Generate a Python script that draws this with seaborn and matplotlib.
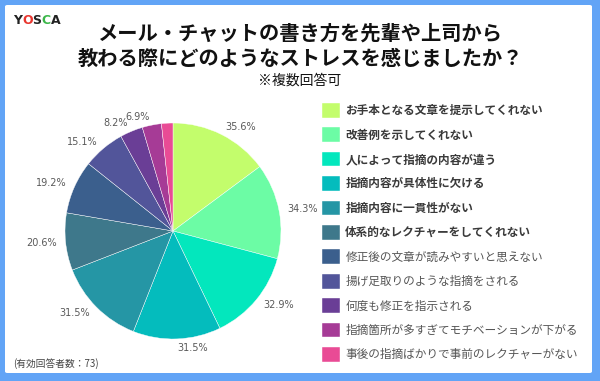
import numpy as np
import matplotlib.pyplot as plt
import seaborn as sns
from matplotlib.patches import FancyBboxPatch

# data
answers = [
    'お手本となる文章を提示してくれない',
    '改善例を示してくれない',
    '人によって指摘の内容が違う',
    '指摘内容が具体性に欠ける',
    '指摘内容に一貫性がない',
    '体系的なレクチャーをしてくれない',
    '修正後の文章が読みやすいと思えない',
    '揚げ足取りのような指摘をされる',
    '何度も修正を指示される',
    '指摘箇所が多すぎてモチベーションが下がる',
    '事後の指摘ばかりで事前のレクチャーがない',
]
percent = [35.6, 34.3, 32.9, 31.5, 31.5, 20.6, 19.2, 15.1, 8.2, 6.9, 4.1]
shown_labels = ['35.6%', '34.3%', '32.9%', '31.5%', '31.5%', '20.6%', '19.2%', '15.1%', '8.2%', '6.9%', '']
slice_colors = ['#c3fd6c', '#6cfca5', '#03e7bd', '#04bcbd', '#2596a5', '#3e788b',
                '#3b5f8d', '#52559a', '#6a3e96', '#a63b96', '#e94b95']

title = 'メール・チャットの書き方を先輩や上司から\n教わる際にどのようなストレスを感じましたか？'
subtitle = '※複数回答可'
note = '(有効回答者数：73)'

sns.set_theme(style='white')
plt.rcParams['font.family'] = ['Noto Sans CJK JP', 'DejaVu Sans']

fig = plt.figure(figsize=(6, 3.81), dpi=100)
fig.patch.set_facecolor('#62a4f6')
fig.patches.append(FancyBboxPatch((5 / 600, 8 / 381), 587 / 600, 368 / 381,
                                  boxstyle='round,pad=0,rounding_size=0.004',
                                  transform=fig.transFigure, facecolor='white',
                                  edgecolor='none', zorder=-5))

palette = sns.color_palette(slice_colors)

ax = fig.add_axes([65 / 600, 42 / 381, 216 / 600, 216 / 381])
ax.set_zorder(2)
ax.patch.set_alpha(0)
wedges, texts = ax.pie(percent, colors=palette, startangle=90, counterclock=False,
                       labels=shown_labels, labeldistance=1.08,
                       wedgeprops=dict(linewidth=0.3, edgecolor='white'),
                       textprops=dict(fontsize=7, color='#5a5a5a', family='DejaVu Sans'))
ax.set_xlim(-1, 1)
ax.set_ylim(-1, 1)
ax.set_aspect('equal')

leg = fig.legend(wedges, answers, loc='upper left', bbox_to_anchor=(322 / 600, 1 - 103 / 381),
                 frameon=False, fontsize=8.4, handlelength=1.55, handleheight=1.55,
                 labelspacing=0.84, handletextpad=0.45, borderaxespad=0, borderpad=0)
for i, t in enumerate(leg.get_texts()):
    t.set_color('#3a3a3a' if i < 6 else '#555555')
    t.set_fontweight('bold' if i < 6 else 'normal')

fig.text(0.5, 1 - 46 / 381, title, ha='center', va='center', fontsize=14.6,
         fontweight='bold', color='#111111', linespacing=1.25)
fig.text(0.5, 1 - 81 / 381, subtitle, ha='center', va='center', fontsize=10, color='#111111')
fig.text(13 / 600, 1 - 364 / 381, note, ha='left', va='center', fontsize=7, color='#444444')

# logo
logo = [('Y', '#222222'), ('O', '#e8362f'), ('S', '#222222'), ('C', '#3cb64a'), ('A', '#222222')]
for i, (ch, c) in enumerate(logo):
    fig.text((13 + i * 9.6) / 600, 1 - 20 / 381, ch, ha='left', va='center', fontsize=9,
             fontweight='bold', color=c, family='DejaVu Sans')

fig.savefig('out.png', dpi=100, facecolor=fig.get_facecolor())
